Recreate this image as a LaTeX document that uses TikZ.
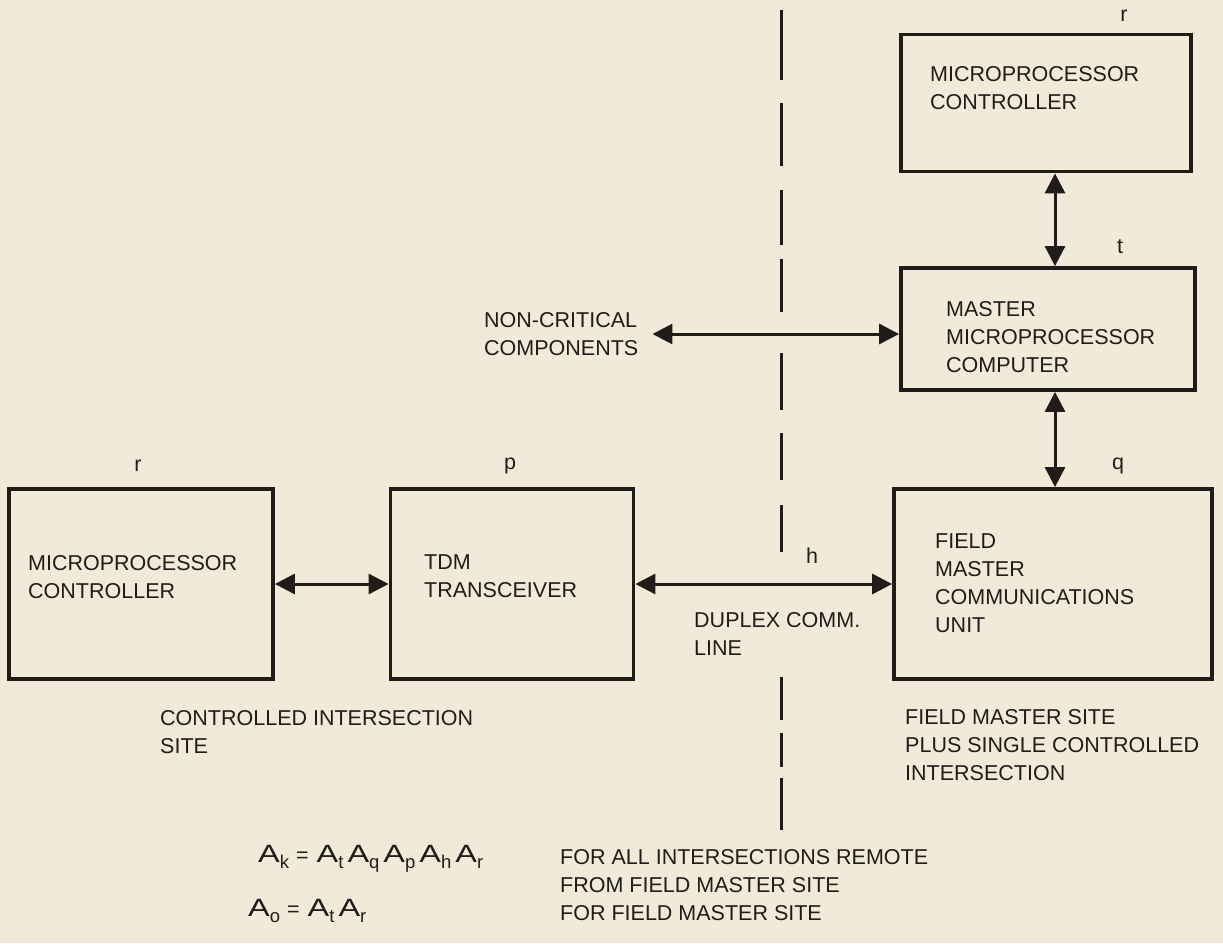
\documentclass[tikz,border=0pt]{standalone}
\usepackage{fontspec}
\setmainfont{Liberation Sans}
\usetikzlibrary{arrows.meta}
\definecolor{paper}{RGB}{242,234,216}
\definecolor{ink}{RGB}{32,28,26}
\newcommand\Asb[1]{{\fontsize{25}{25}\selectfont\scalebox{1.3}[1]{A}}\raisebox{-0.55ex}{\fontsize{18.5}{18}\selectfont #1}}
\begin{document}
\begin{tikzpicture}[x=1pt,y=-1pt,
  blk/.style={draw=ink,line width=3.8pt,inner sep=0pt},
  txt/.style={anchor=west,align=left,inner sep=0pt,text=ink,font=\fontsize{21.5}{28}\selectfont},
  lbl/.style={inner sep=0pt,text=ink,font=\fontsize{21.5}{28}\selectfont},
  divider/.style={draw=ink,line width=3pt},
  biarrow/.style={draw=ink,line width=3pt,{Triangle[length=20pt,width=20pt]}-{Triangle[length=20pt,width=20pt]}}]
\fill[paper] (0,0) rectangle (1223,943);
\useasboundingbox (0,0) rectangle (1223,943);

% dashed divider (explicit dashes)
\foreach \ya/\yb in {10/80,103/166,190/245,259/312,353/410,433/480,505/552,677/720,733/767,778/830}
  \draw[divider] (781,\ya) -- (781,\yb);

% boxes
\node[blk,minimum width=264pt,minimum height=190pt] (lc) at (141,584) {};
\node[blk,minimum width=243pt,minimum height=190pt] (tdm) at (512,584) {};
\node[blk,minimum width=318pt,minimum height=190pt] (fm) at (1053,584) {};
\node[blk,minimum width=294pt,minimum height=122pt] (mm) at (1048,329) {};
\node[blk,minimum width=290pt,minimum height=137pt] (tc) at (1046,103) {};

% box texts
\node[txt] (lct) at (28,577) {MICROPROCESSOR\\CONTROLLER};
\node[txt] (tdmt) at (424,576) {TDM\\TRANSCEIVER};
\node[txt] (fmt) at (935,583) {FIELD\\MASTER\\COMMUNICATIONS\\UNIT};
\node[txt] (mmt) at (946,337) {MASTER\\MICROPROCESSOR\\COMPUTER};
\node[txt] (tct) at (930,88) {MICROPROCESSOR\\CONTROLLER};

% letter labels
\node[lbl] (lr) at (138,466) {r};
\node[lbl] (lp) at (510,466) {p};
\node[lbl] (lq) at (1118,466) {q};
\node[lbl] (lt) at (1120,247) {t};
\node[lbl] (ltr) at (1124,16) {r};
\node[lbl] (lh) at (812,556) {h};

% connectors
\coordinate (vx) at (1055,0);
\draw[biarrow] (lc.east) -- (tdm.west);
\draw[biarrow] (tdm.east) -- (fm.west);
\draw[biarrow] (tc.south -| vx) -- (mm.north -| vx);
\draw[biarrow] (mm.south -| vx) -- (fm.north -| vx);

\node[txt] (nc) at (484,334) {NON-CRITICAL\\COMPONENTS};
\coordinate (ncy) at (0,334);
\draw[biarrow] ([xshift=14pt]nc.east) -- (mm.west |- ncy);

% free texts
\node[txt] (dup) at (694,634) {DUPLEX COMM.\\LINE};
\node[txt] (cis) at (160,732) {CONTROLLED INTERSECTION\\SITE};
\node[txt] (fms) at (905,745) {FIELD MASTER SITE\\PLUS SINGLE CONTROLLED\\INTERSECTION};

% equations
\node[txt] (eqk) at (258,859) {\Asb{k}\hspace{7pt}=\hspace{8pt}\Asb{t}\hspace{4pt}\Asb{q}\hspace{4pt}\Asb{p}\hspace{4pt}\Asb{h}\hspace{4pt}\Asb{r}};
\node[txt] (eqo) at (248,911) {\Asb{o}\hspace{7pt}=\hspace{8pt}\Asb{t}\hspace{4pt}\Asb{r}};
\node[txt] (eqt) at (560,885) {FOR ALL INTERSECTIONS REMOTE\\FROM FIELD MASTER SITE\\FOR FIELD MASTER SITE};
\end{tikzpicture}
\end{document}
